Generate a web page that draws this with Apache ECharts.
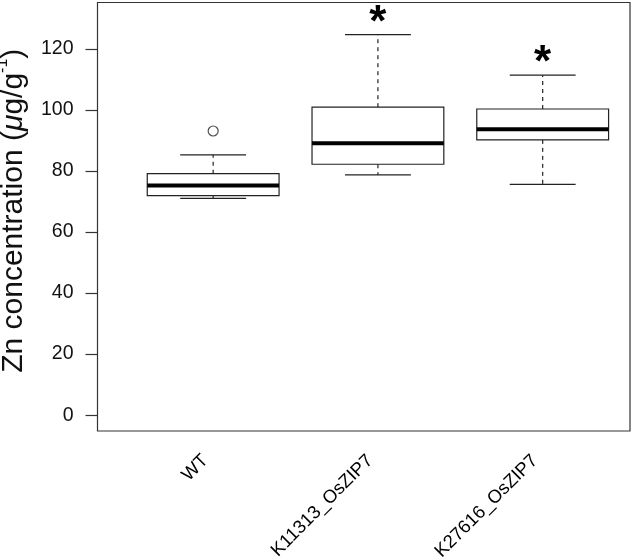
<!DOCTYPE html>
<html><head><meta charset="utf-8">
<script src="https://cdn.jsdelivr.net/npm/echarts@6/dist/echarts.min.js"></script>
<style>html,body{margin:0;padding:0;background:#fff}#c{width:633px;height:560px}</style>
</head><body><div id="c"></div>
<script>
const categories = ['WT', 'K11313_OsZIP7', 'K27616_OsZIP7'];
const lowerWhisker = [71.0, 78.7, 75.6];
const q1 = [71.9, 82.2, 90.2];
const median = [75.2, 89.1, 93.7];
const q3 = [79.1, 100.9, 100.3];
const upperWhisker = [85.3, 124.7, 111.4];
const outliers = [[0, 93.1]];
const significance = ['', '*', '*'];
const yTicks = [0, 20, 40, 60, 80, 100, 120];

const FONT = 'Liberation Sans, Arial, Helvetica, sans-serif';
const boxData = categories.map((c, i) => [i + 1, lowerWhisker[i], q1[i], median[i], q3[i], upperWhisker[i], i]);
const outlierData = outliers.map(o => [o[0] + 1, o[1]]);

const chart = echarts.init(document.getElementById('c'), null, {renderer: 'canvas'});
chart.setOption({
  animation: false,
  backgroundColor: '#fff',
  grid: {left: 97.5, top: 2.5, right: 3, bottom: 129, containLabel: false, outerBoundsMode: 'none',
         show: true, borderColor: '#333', borderWidth: 1.2, backgroundColor: 'transparent'},
  xAxis: {
    type: 'value', min: 0.298, max: 3.53,
    axisLine: {show: false}, axisTick: {show: false}, splitLine: {show: false},
    axisLabel: {
      customValues: [1, 2, 3],
      formatter: v => categories[Math.round(v) - 1] || '',
      rotate: 45, fontSize: 18.5, color: '#000', fontFamily: FONT, margin: 19, padding: [0, 11, 0, 0]
    }
  },
  yAxis: {
    type: 'value', min: -5.2, max: 135.2,
    axisLine: {show: false}, splitLine: {show: false},
    axisTick: {show: true, customValues: yTicks, length: 12, lineStyle: {color: '#333', width: 1.2}},
    axisLabel: {customValues: yTicks, fontSize: 19.5, color: '#111', fontFamily: FONT, margin: 24},
    name: '{a|Zn concentration (}{i|μ}{a|g/g}{s|-1}{a|)}',
    nameLocation: 'middle', nameGap: 69, nameRotate: 90,
    nameTextStyle: {
      padding: [0, 0, 0, 12],
      rich: {
        a: {fontSize: 30, fontFamily: FONT, color: '#111', lineHeight: 34, verticalAlign: 'bottom'},
        i: {fontSize: 30, fontFamily: FONT, fontStyle: 'italic', color: '#111', lineHeight: 34, verticalAlign: 'bottom'},
        s: {fontSize: 16, fontFamily: FONT, color: '#111', lineHeight: 34, verticalAlign: 'top'}
      }
    }
  },
  series: [
    {
      type: 'custom',
      data: boxData,
      renderItem: function (params, api) {
        const x = api.value(0);
        const idx = api.value(6);
        const pLW = api.coord([x, api.value(1)]);
        const pQ1 = api.coord([x, api.value(2)]);
        const pMed = api.coord([x, api.value(3)]);
        const pQ3 = api.coord([x, api.value(4)]);
        const pUW = api.coord([x, api.value(5)]);
        const halfW = api.size([0.4, 0])[0];
        const capW = api.size([0.2, 0])[0];
        const cx = pMed[0];
        const stroke = {stroke: '#222', lineWidth: 1.2, fill: null};
        const dashed = {stroke: '#222', lineWidth: 1.2, lineDash: [4, 4], fill: null};
        const children = [
          {type: 'line', shape: {x1: cx, y1: pQ3[1], x2: cx, y2: pUW[1]}, style: dashed},
          {type: 'line', shape: {x1: cx, y1: pQ1[1], x2: cx, y2: pLW[1]}, style: dashed},
          {type: 'line', shape: {x1: cx - capW, y1: pUW[1], x2: cx + capW, y2: pUW[1]}, style: stroke},
          {type: 'line', shape: {x1: cx - capW, y1: pLW[1], x2: cx + capW, y2: pLW[1]}, style: stroke},
          {type: 'rect', shape: {x: cx - halfW, y: pQ3[1], width: 2 * halfW, height: pQ1[1] - pQ3[1]}, style: {stroke: '#222', lineWidth: 1.2, fill: '#fff'}},
          {type: 'line', shape: {x1: cx - halfW, y1: pMed[1], x2: cx + halfW, y2: pMed[1]}, style: {stroke: '#000', lineWidth: 4}}
        ];
        const sig = significance[idx];
        if (sig) {
          children.push({type: 'text', style: {text: sig, x: cx, y: pUW[1] - 11, fontSize: 44, fontWeight: 'bold', fontFamily: FONT, fill: '#000', align: 'center', verticalAlign: 'middle'}});
        }
        return {type: 'group', children: children};
      },
      z: 2
    },
    {
      type: 'scatter',
      data: outlierData,
      symbol: 'circle', symbolSize: 10,
      itemStyle: {color: '#fff', borderColor: '#222', borderWidth: 1.2},
      z: 3
    }
  ]
});
</script></body></html>
